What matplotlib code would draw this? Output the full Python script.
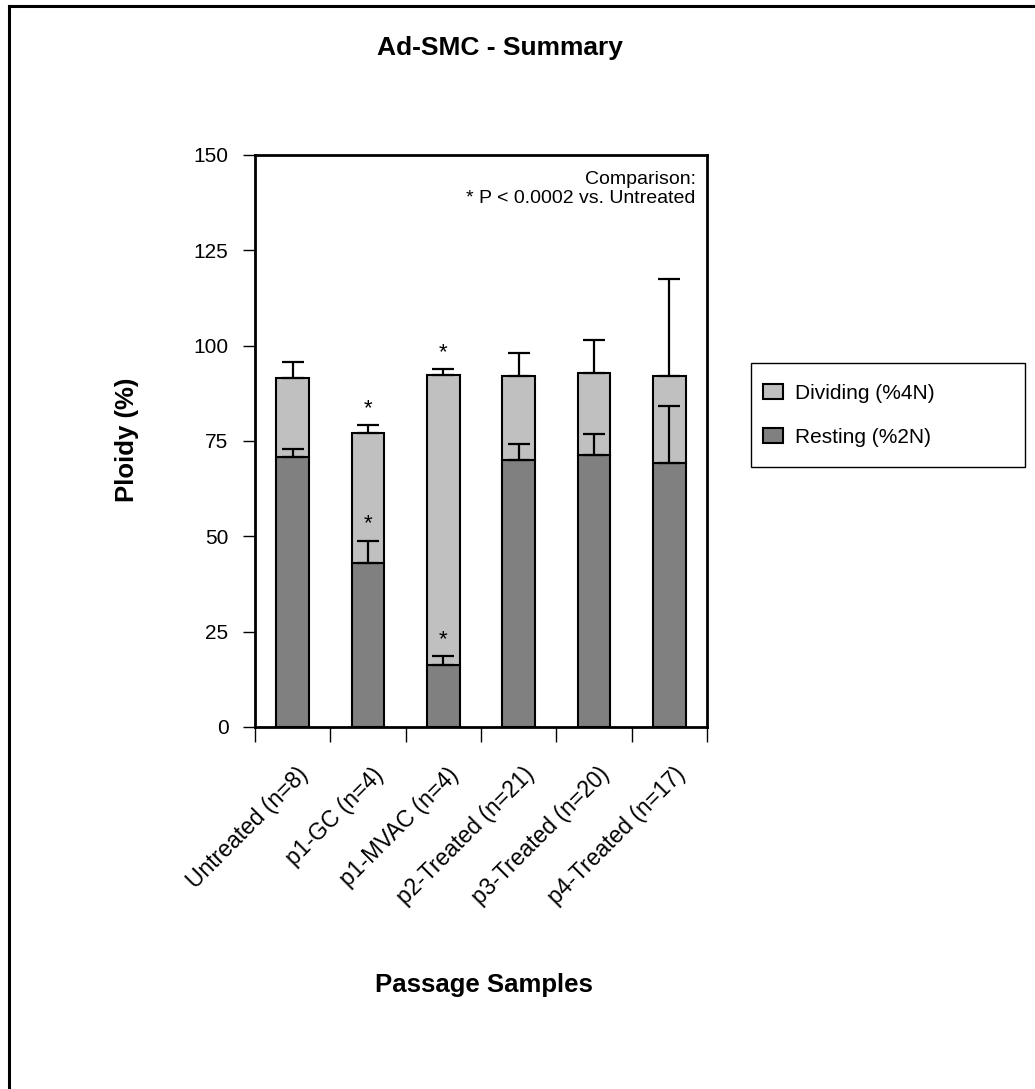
import matplotlib.pyplot as plt
import numpy as np
from matplotlib.lines import Line2D
from matplotlib.patches import Patch, Rectangle
import matplotlib.transforms as mtransforms

plt.rcParams["font.family"] = ["Liberation Sans", "DejaVu Sans"]

# Data
categories = [
    "Untreated (n=8)",
    "p1-GC (n=4)",
    "p1-MVAC (n=4)",
    "p2-Treated (n=21)",
    "p3-Treated (n=20)",
    "p4-Treated (n=17)",
]
resting = [70.7, 42.9, 16.2, 69.9, 71.3, 69.1]
resting_err = [2.1, 6.0, 2.3, 4.2, 5.6, 15.2]
dividing = [20.8, 34.1, 76.0, 22.2, 21.6, 23.0]
dividing_err = [4.3, 2.2, 1.6, 5.9, 8.7, 25.4]
resting_sig = [False, True, True, False, False, False]
dividing_sig = [False, True, True, False, False, False]
yticks = [0, 25, 50, 75, 100, 125, 150]

W, H = 1035, 1089
fig = plt.figure(figsize=(W / 100, H / 100), dpi=100)

# Outer frame (cut off at right and bottom like the reference)
fig.add_artist(Line2D([9 / W, 9 / W], [0, 1 - 6 / H], color="black", lw=2.2,
                      transform=fig.transFigure))
fig.add_artist(Line2D([9 / W, 1], [1 - 6 / H, 1 - 6 / H], color="black", lw=2.2,
                      transform=fig.transFigure))

ax = fig.add_axes([255 / W, 1 - 727 / H, 452 / W, 572 / H])

x = np.arange(len(categories))
bar_w = 0.43
total = np.array(resting) + np.array(dividing)

ax.bar(x, resting, bar_w, color="#808080", edgecolor="black", linewidth=1.5,
       zorder=2)
ax.bar(x, dividing, bar_w, bottom=resting, color="#c0c0c0", edgecolor="black",
       linewidth=1.5, zorder=2)

zeros = np.zeros(len(x))
ax.errorbar(x, resting, yerr=[zeros, resting_err], fmt="none", ecolor="black",
            elinewidth=1.6, capsize=8, capthick=1.6, zorder=3)
ax.errorbar(x, total, yerr=[zeros, dividing_err], fmt="none", ecolor="black",
            elinewidth=1.6, capsize=8, capthick=1.6, zorder=3)

# Significance stars above the error caps
for i in range(len(x)):
    if resting_sig[i]:
        ax.annotate("*", (x[i], resting[i] + resting_err[i]), xytext=(0, 12),
                    textcoords="offset points", ha="center", va="center",
                    fontsize=16)
    if dividing_sig[i]:
        ax.annotate("*", (x[i], total[i] + dividing_err[i]), xytext=(0, 12),
                    textcoords="offset points", ha="center", va="center",
                    fontsize=16)

ax.set_xlim(-0.5, len(x) - 0.5)
ax.set_ylim(0, 150)
ax.set_yticks(yticks)
ax.tick_params(axis="y", direction="out", length=9, width=1, labelsize=15, pad=10)

# ticks between categories, labels at category centres
ax.set_xticks(np.arange(len(x) + 1) - 0.5)
ax.set_xticklabels([])
ax.set_xticks(x, minor=True)
ax.set_xticklabels(categories, minor=True, rotation=45, ha="right", va="top",
                   rotation_mode="anchor", fontsize=16.5)
ax.tick_params(axis="x", which="major", direction="out", length=11, width=1)
ax.tick_params(axis="x", which="minor", length=0, pad=26)
offset = mtransforms.ScaledTranslation(3 / 72, 0, fig.dpi_scale_trans)
for lab in ax.get_xticklabels(minor=True):
    lab.set_transform(lab.get_transform() + offset)

for s in ax.spines.values():
    s.set_linewidth(2)

ax.text(0.975, 0.972, "Comparison:\n* P < 0.0002 vs. Untreated", transform=ax.transAxes,
        ha="right", va="top", fontsize=14, linespacing=1.15)

fig.text(500 / W, 1 - 48 / H, "Ad-SMC - Summary", ha="center", va="center",
         fontsize=19, fontweight="bold")
fig.text(127 / W, 1 - 440 / H, "Ploidy (%)", ha="center", va="center",
         rotation=90, fontsize=18.5, fontweight="bold")
fig.text(484 / W, 1 - 985 / H, "Passage Samples", ha="center", va="center",
         fontsize=18.5, fontweight="bold")

# Legend box drawn separately so the padding can match the reference
fig.add_artist(Rectangle((751 / W, 1 - 467 / H), 274 / W, 104 / H,
                         transform=fig.transFigure, facecolor="white",
                         edgecolor="black", linewidth=1))
handles = [Patch(facecolor="#c0c0c0", edgecolor="black", linewidth=1.5),
           Patch(facecolor="#808080", edgecolor="black", linewidth=1.5)]
leg = fig.legend(handles, ["Dividing (%4N)", "Resting (%2N)"],
                 loc="upper left", bbox_to_anchor=(763 / W, 1 - 384 / H),
                 fontsize=15, frameon=False, borderpad=0, borderaxespad=0,
                 handlelength=0.96, handleheight=0.72, handletextpad=0.58,
                 labelspacing=1.2)

fig.savefig("out.png", dpi=100)
